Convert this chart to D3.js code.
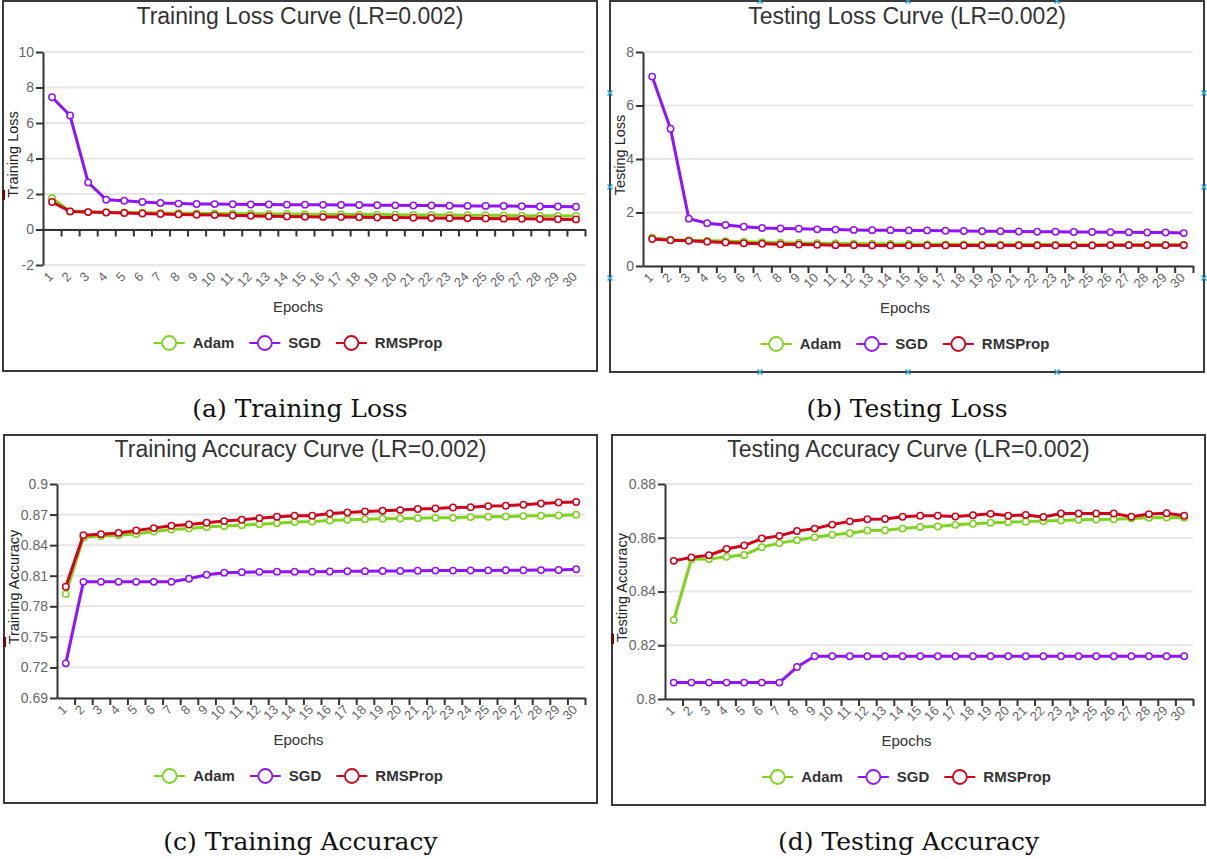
<!DOCTYPE html>
<html>
<head>
<meta charset="utf-8">
<script src="https://cdn.jsdelivr.net/npm/d3@7"></script>
<style>
  body { margin: 0; background: #fff; }
  svg { display: block; font-family: 'Liberation Sans', Arial, sans-serif; }
</style>
</head>
<body>
<div id="chart"></div>
<script>
const epochs = d3.range(1, 31)
const optimizers = ['Adam', 'SGD', 'RMSProp']
const colors = { Adam: '#7ed321', SGD: '#9013fe', RMSProp: '#d0021b' }

// (a) training loss
const trainLossAdam = [1.78, 1.02, 0.98, 0.97, 0.96, 0.94, 0.93, 0.92, 0.91, 0.90, 0.89, 0.89, 0.88, 0.87, 0.86, 0.86, 0.85, 0.84, 0.84, 0.83, 0.82, 0.82, 0.81, 0.80, 0.80, 0.79, 0.78, 0.78, 0.77, 0.76]
const trainLossSGD = [7.45, 6.42, 2.65, 1.68, 1.62, 1.55, 1.49, 1.46, 1.44, 1.43, 1.42, 1.41, 1.41, 1.40, 1.40, 1.39, 1.38, 1.38, 1.37, 1.36, 1.35, 1.35, 1.34, 1.33, 1.33, 1.32, 1.31, 1.30, 1.30, 1.28]
const trainLossRMS = [1.55, 1.02, 0.98, 0.96, 0.93, 0.90, 0.87, 0.85, 0.83, 0.81, 0.79, 0.77, 0.75, 0.73, 0.72, 0.71, 0.70, 0.69, 0.68, 0.67, 0.66, 0.65, 0.64, 0.63, 0.62, 0.61, 0.60, 0.59, 0.58, 0.57]
const trainLossTicks = [-2, 0, 2, 4, 6, 8, 10]

// (b) testing loss
const testLossAdam = [1.06, 0.98, 0.96, 0.94, 0.93, 0.91, 0.89, 0.87, 0.86, 0.85, 0.84, 0.83, 0.83, 0.82, 0.82, 0.81, 0.81, 0.81, 0.80, 0.80, 0.80, 0.80, 0.80, 0.79, 0.79, 0.79, 0.79, 0.79, 0.79, 0.79]
const testLossSGD = [7.08, 5.13, 1.77, 1.60, 1.53, 1.47, 1.42, 1.40, 1.39, 1.37, 1.36, 1.35, 1.34, 1.34, 1.33, 1.33, 1.32, 1.31, 1.30, 1.30, 1.29, 1.28, 1.28, 1.27, 1.27, 1.26, 1.26, 1.25, 1.25, 1.23]
const testLossRMS = [1.01, 0.96, 0.94, 0.91, 0.88, 0.85, 0.83, 0.81, 0.80, 0.79, 0.78, 0.78, 0.77, 0.77, 0.77, 0.77, 0.77, 0.77, 0.77, 0.77, 0.77, 0.77, 0.77, 0.77, 0.77, 0.78, 0.78, 0.78, 0.78, 0.78]
const testLossTicks = [0, 2, 4, 6, 8]

// (c) training accuracy
const trainAccAdam = [0.792, 0.8475, 0.849, 0.8498, 0.851, 0.8534, 0.8553, 0.8563, 0.8577, 0.8587, 0.8596, 0.8606, 0.8616, 0.8626, 0.8632, 0.8642, 0.8649, 0.8655, 0.8659, 0.8662, 0.8665, 0.8668, 0.8668, 0.8675, 0.8678, 0.8681, 0.8685, 0.8688, 0.8691, 0.8698]
const trainAccSGD = [0.724, 0.804, 0.804, 0.804, 0.804, 0.804, 0.804, 0.807, 0.811, 0.813, 0.8135, 0.8138, 0.814, 0.814, 0.814, 0.8142, 0.8144, 0.8145, 0.8146, 0.8147, 0.8148, 0.815, 0.815, 0.8151, 0.8152, 0.8153, 0.8154, 0.8155, 0.8156, 0.8163]
const trainAccRMS = [0.7992, 0.8498, 0.8508, 0.852, 0.8543, 0.8567, 0.859, 0.8603, 0.862, 0.8636, 0.8649, 0.8665, 0.8678, 0.8688, 0.8688, 0.8711, 0.8721, 0.873, 0.8737, 0.8744, 0.8754, 0.876, 0.877, 0.8773, 0.8783, 0.8787, 0.8796, 0.8809, 0.8819, 0.8823]
const trainAccTicks = [0.69, 0.72, 0.75, 0.78, 0.81, 0.84, 0.87, 0.9]

// (d) testing accuracy
const testAccAdam = [0.8294, 0.852, 0.8521, 0.8529, 0.8536, 0.8565, 0.858, 0.8591, 0.8602, 0.8611, 0.8617, 0.8627, 0.8628, 0.8634, 0.864, 0.8642, 0.8648, 0.8652, 0.8656, 0.8658, 0.866, 0.8662, 0.8664, 0.8667, 0.8668, 0.8669, 0.8672, 0.8674, 0.8675, 0.8674]
const testAccSGD = [0.8061, 0.8061, 0.8061, 0.8061, 0.8061, 0.8061, 0.8061, 0.8119, 0.8159, 0.8159, 0.8159, 0.8159, 0.8159, 0.8159, 0.8159, 0.8159, 0.8159, 0.8159, 0.8159, 0.8159, 0.8159, 0.8159, 0.8159, 0.8159, 0.8159, 0.8159, 0.8159, 0.8159, 0.8159, 0.8159]
const testAccRMS = [0.8514, 0.8527, 0.8535, 0.8558, 0.8571, 0.8597, 0.8607, 0.8625, 0.8634, 0.8649, 0.8661, 0.8669, 0.867, 0.8678, 0.8682, 0.8682, 0.8679, 0.8684, 0.8689, 0.8682, 0.8685, 0.8677, 0.869, 0.869, 0.869, 0.869, 0.8678, 0.8688, 0.8691, 0.8682]
const testAccTicks = [0.8, 0.82, 0.84, 0.86, 0.88]

const panels = [
  {
    title: 'Training Loss Curve (LR=0.002)', yLabel: 'Training Loss', caption: '(a) Training Loss',
    series: { Adam: trainLossAdam, SGD: trainLossSGD, RMSProp: trainLossRMS }, ticks: trainLossTicks, xAxisAt: 0,
    frame: { x0: 3, y0: 1, x1: 597, y1: 371 }, plot: { x0: 43, x1: 585, y0: 52, y1: 265 },
    titleY: 24, epochsY: 312, legendY: 343, captionY: 417, mark: 195
  },
  {
    title: 'Testing Loss Curve (LR=0.002)', yLabel: 'Testing Loss', caption: '(b) Testing Loss',
    series: { Adam: testLossAdam, SGD: testLossSGD, RMSProp: testLossRMS }, ticks: testLossTicks, xAxisAt: 0,
    frame: { x0: 610, y0: 1, x1: 1204, y1: 372 }, plot: { x0: 643, x1: 1193, y0: 52, y1: 266 },
    titleY: 24, epochsY: 313, legendY: 344, captionY: 417, handles: true
  },
  {
    title: 'Training Accuracy Curve (LR=0.002)', yLabel: 'Training Accuracy', caption: '(c) Training Accuracy',
    series: { Adam: trainAccAdam, SGD: trainAccSGD, RMSProp: trainAccRMS }, ticks: trainAccTicks, xAxisAt: 0.69,
    frame: { x0: 4, y0: 435, x1: 597, y1: 803 }, plot: { x0: 57, x1: 585, y0: 484, y1: 698 },
    titleY: 457, epochsY: 745, legendY: 776, captionY: 850, mark: 642
  },
  {
    title: 'Testing Accuracy Curve (LR=0.002)', yLabel: 'Testing Accuracy', caption: '(d) Testing Accuracy',
    series: { Adam: testAccAdam, SGD: testAccSGD, RMSProp: testAccRMS }, ticks: testAccTicks, xAxisAt: 0.8,
    frame: { x0: 612, y0: 435, x1: 1205, y1: 805 }, plot: { x0: 665, x1: 1193, y0: 484, y1: 699 },
    titleY: 457, epochsY: 746, legendY: 777, captionY: 850, mark: 639
  }
]

const svg = d3.select('#chart').append('svg')
  .attr('width', 1207)
  .attr('height', 859)

function drawPanel (p) {
  const g = svg.append('g')
  const cx = (p.frame.x0 + p.frame.x1) / 2

  g.append('rect')
    .attr('x', p.frame.x0).attr('y', p.frame.y0)
    .attr('width', p.frame.x1 - p.frame.x0).attr('height', p.frame.y1 - p.frame.y0)
    .attr('fill', '#fff').attr('stroke', '#3a3a3a').attr('stroke-width', 2)

  const x = d3.scaleBand().domain(epochs).range([p.plot.x0, p.plot.x1])
  const edge = d3.scaleLinear().domain([0, epochs.length]).range([p.plot.x0, p.plot.x1])
  const y = d3.scaleLinear().domain(d3.extent(p.ticks)).range([p.plot.y1, p.plot.y0])
  const cxOf = d => x(d) + x.bandwidth() / 2

  // grid
  g.append('g').selectAll('line')
    .data(p.ticks)
    .join('line')
    .attr('x1', p.plot.x0).attr('x2', p.plot.x1)
    .attr('y1', d => y(d)).attr('y2', d => y(d))
    .attr('stroke', '#e6e6e6').attr('stroke-width', 2)

  // y axis
  const yAxis = g.append('g')
    .attr('transform', `translate(${p.plot.x0},0)`)
    .call(d3.axisLeft(y).tickValues(p.ticks).tickSize(7).tickSizeOuter(0).tickPadding(2)
      .tickFormat(d => +d.toFixed(2)))
  yAxis.select('.domain').attr('stroke', '#333').attr('stroke-width', 2)
  yAxis.selectAll('.tick line').attr('stroke', '#333').attr('stroke-width', 2)
  yAxis.selectAll('.tick text').attr('fill', '#666').style('font-size', '14px').style('font-family', null)

  // x axis (line at xAxisAt, ticks on band edges)
  const xAxis = g.append('g')
    .attr('transform', `translate(0,${y(p.xAxisAt)})`)
    .call(d3.axisBottom(edge).tickValues(d3.range(1, epochs.length + 1)).tickSize(7).tickSizeOuter(0).tickFormat(''))
  xAxis.select('.domain').attr('stroke', '#333').attr('stroke-width', 2)
  xAxis.selectAll('.tick line').attr('stroke', '#333').attr('stroke-width', 2)

  g.append('g').selectAll('text')
    .data(epochs)
    .join('text')
    .attr('transform', d => `translate(${cxOf(d) + 2},${p.plot.y1 + 12.5}) rotate(-45)`)
    .attr('text-anchor', 'end')
    .attr('fill', '#666')
    .style('font-size', '13px')
    .text(d => d)

  // series
  const line = d3.line().x((d, i) => cxOf(epochs[i])).y(d => y(d))
  optimizers.forEach(name => {
    const vals = p.series[name]
    g.append('path')
      .datum(vals)
      .attr('d', line)
      .attr('fill', 'none')
      .attr('stroke', colors[name])
      .attr('stroke-width', 3)
      .attr('stroke-linejoin', 'round')
    g.append('g').selectAll('circle')
      .data(vals)
      .join('circle')
      .attr('cx', (d, i) => cxOf(epochs[i]))
      .attr('cy', d => y(d))
      .attr('r', 3.2)
      .attr('fill', '#fff')
      .attr('stroke', colors[name])
      .attr('stroke-width', 1.5)
  })

  // titles
  g.append('text')
    .attr('x', cx).attr('y', p.titleY)
    .attr('text-anchor', 'middle')
    .attr('fill', '#333')
    .style('font-size', '23px')
    .text(p.title)

  g.append('text')
    .attr('transform', `translate(${p.frame.x0 + 15},${(p.plot.y0 + p.plot.y1) / 2 - 4}) rotate(-90)`)
    .attr('text-anchor', 'middle')
    .attr('fill', '#222')
    .style('font-size', '14.5px')
    .text(p.yLabel)

  if (p.mark) {
    g.append('rect')
      .attr('x', p.frame.x0 - 1).attr('y', p.mark - 5)
      .attr('width', 3).attr('height', 10)
      .attr('fill', '#6a0a0a')
  }

  g.append('text')
    .attr('x', cx - 2).attr('y', p.epochsY)
    .attr('text-anchor', 'middle')
    .attr('fill', '#333')
    .style('font-size', '15px')
    .text('Epochs')

  // legend
  const legend = g.append('g')
  let lx = 0
  optimizers.forEach(name => {
    const item = legend.append('g').attr('transform', `translate(${lx},0)`)
    item.append('line')
      .attr('x1', 0).attr('x2', 31).attr('y1', 0).attr('y2', 0)
      .attr('stroke', colors[name]).attr('stroke-width', 2)
    item.append('circle')
      .attr('cx', 15.5).attr('cy', 0).attr('r', 7)
      .attr('fill', '#fff').attr('stroke', colors[name]).attr('stroke-width', 1.8)
    const t = item.append('text')
      .attr('x', 39).attr('y', 5)
      .attr('fill', '#333')
      .style('font-size', '15px')
      .style('font-weight', 'bold')
      .text(name)
    lx += 39 + t.node().getComputedTextLength() + 15
  })
  const lw = lx - 15
  legend.attr('transform', `translate(${cx - 2 - lw / 2},${p.legendY})`)

  // caption
  svg.append('text')
    .attr('x', cx).attr('y', p.captionY)
    .attr('text-anchor', 'middle')
    .attr('fill', '#111')
    .style('font-family', "'DejaVu Serif', serif")
    .style('font-size', '25px')
    .text(p.caption)

  // selection handles seen on panel (b)
  if (p.handles) {
    const pts = []
    const xs = [760, 908, 1057]
    const ys = [93, 187, 278]
    xs.forEach(hx => { pts.push([hx, p.frame.y0]); pts.push([hx, p.frame.y1]) })
    ys.forEach(hy => { pts.push([p.frame.x0, hy]); pts.push([p.frame.x1, hy]) })
    g.append('g').selectAll('path')
      .data(pts)
      .join('path')
      .attr('d', d => `M${d[0] - 2.5},${d[1] - 2.5}L${d[0] + 2.5},${d[1] + 2.5}M${d[0] + 2.5},${d[1] - 2.5}L${d[0] - 2.5},${d[1] + 2.5}`)
      .attr('stroke', '#2aa6e0')
      .attr('stroke-width', 1.5)
  }
}

panels.forEach(drawPanel)
</script>
</body>
</html>
